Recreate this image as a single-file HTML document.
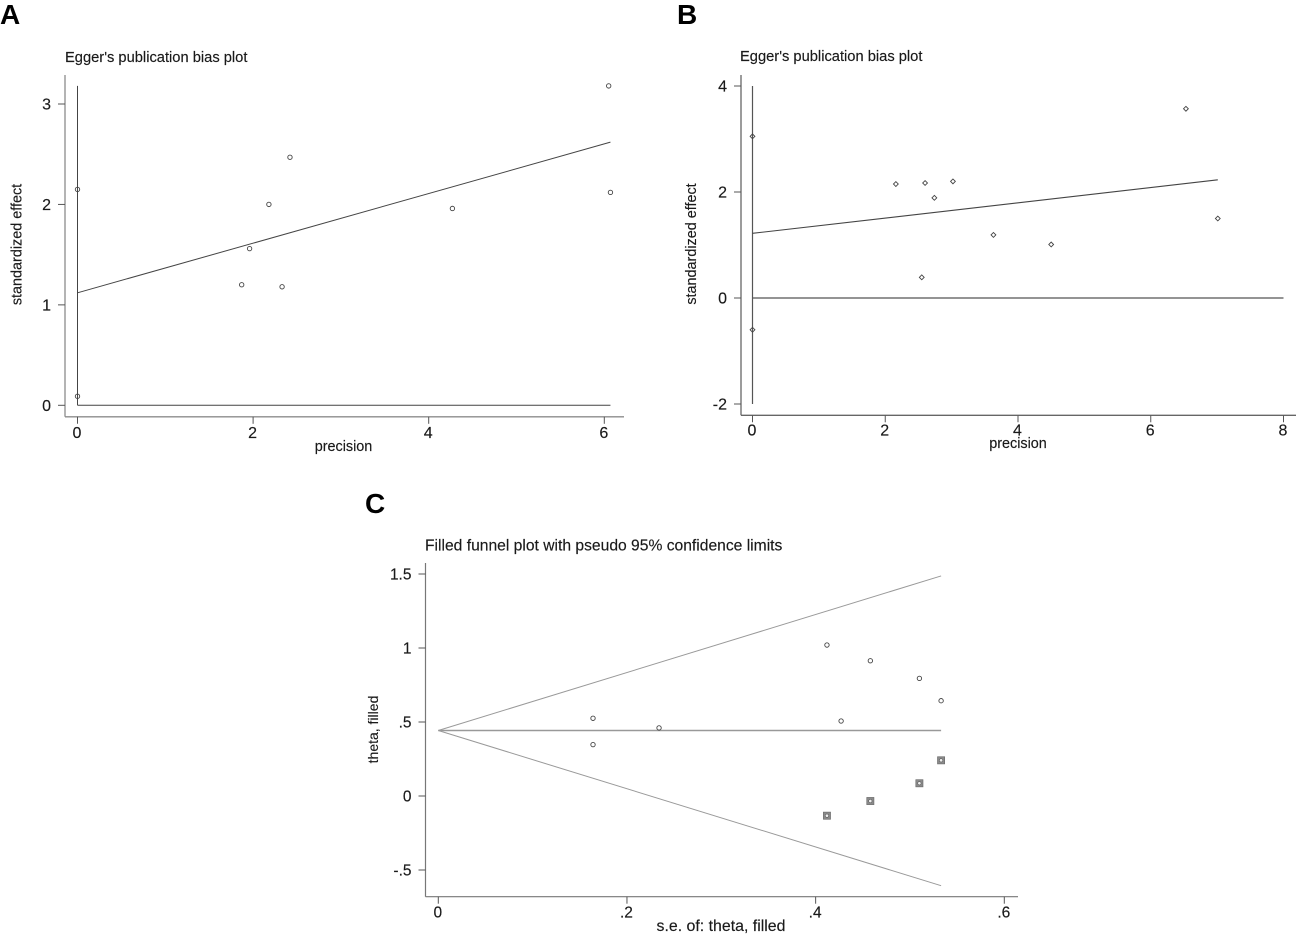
<!DOCTYPE html>
<html lang="en">
<head>
<meta charset="utf-8">
<title>Egger's publication bias plots and filled funnel plot</title>
<style>
html,body{margin:0;padding:0;background:#fff;}
body{width:1303px;height:945px;overflow:hidden;}
svg{display:block;font-family:"Liberation Sans",Arial,sans-serif;}
</style>
</head>
<body>
<svg id="figure" xmlns="http://www.w3.org/2000/svg" width="1303" height="945" viewBox="0 0 1303 945">
  <text x="0" y="24" font-size="28" font-weight="700" fill="#000">A</text>
  <text x="677" y="24" font-size="28" font-weight="700" fill="#000">B</text>
  <text x="365" y="513" font-size="28" font-weight="700" fill="#000">C</text>
  <g id="panel-a"></g>
  <g id="panel-b"></g>
  <g id="panel-c"></g>
</svg>
<script>
// Panel A data
const aPrecision = [0, 0, 1.87, 1.96, 2.18, 2.33, 2.42, 4.27, 6.05, 6.07];
const aEffect = [2.15, 0.09, 1.2, 1.56, 2.0, 1.18, 2.47, 1.96, 3.18, 2.12];
const aFitX = [0, 6.07];
const aFitY = [1.12, 2.62];
const aRefVertical = [0, 3.18];
const aRefHorizontal = [0, 6.07];
const aXTicks = [0, 2, 4, 6];
const aYTicks = [0, 1, 2, 3];

// Panel B data
const bPrecision = [0, 0, 2.16, 2.55, 2.6, 2.74, 3.02, 3.63, 4.5, 6.53, 7.01];
const bEffect = [3.05, -0.6, 2.15, 0.39, 2.17, 1.89, 2.2, 1.19, 1.01, 3.57, 1.5];
const bFitX = [0, 7.01];
const bFitY = [1.22, 2.23];
const bRefVertical = [-2, 4];
const bRefHorizontal = [0, 8];
const bXTicks = [0, 2, 4, 6, 8];
const bYTicks = [-2, 0, 2, 4];

// Panel C data
const cObservedSE = [0.164, 0.164, 0.234, 0.412, 0.427, 0.458, 0.51, 0.533];
const cObservedTheta = [0.525, 0.347, 0.46, 1.02, 0.507, 0.914, 0.795, 0.644];
const cFilledSE = [0.412, 0.458, 0.51, 0.533];
const cFilledTheta = [-0.133, -0.034, 0.086, 0.241];
const cCenterTheta = 0.4425;
const cMaxSE = 0.533;
const cUpperLimit = 1.487;
const cLowerLimit = -0.606;
const cXTicks = [0, 0.2, 0.4, 0.6];
const cXTickLabels = ['0', '.2', '.4', '.6'];
const cYTicks = [-0.5, 0, 0.5, 1, 1.5];
const cYTickLabels = ['-.5', '0', '.5', '1', '1.5'];

const NS = 'http://www.w3.org/2000/svg';

function linearScale(v0, p0, v1, p1) {
  return function (v) { return p0 + (v - v0) * (p1 - p0) / (v1 - v0); };
}

function drawLine(parent, name, x1, y1, x2, y2, color, width) {
  const el = document.createElementNS(NS, 'line');
  
  
  el.setAttribute('x1', x1);
  el.setAttribute('y1', y1);
  el.setAttribute('x2', x2);
  el.setAttribute('y2', y2);
  el.setAttribute('stroke', color);
  el.setAttribute('stroke-width', width);
  parent.appendChild(el);
  return el;
}

function drawText(parent, name, str, x, y, size, anchor, rotate) {
  const el = document.createElementNS(NS, 'text');
  
  
  el.setAttribute('x', x);
  el.setAttribute('y', y);
  el.setAttribute('font-size', size);
  el.setAttribute('text-anchor', anchor);
  el.setAttribute('fill', '#1a1a1a');
  el.setAttribute('stroke', '#1a1a1a');
  el.setAttribute('stroke-width', 0.15);
  if (rotate) el.setAttribute('transform', 'rotate(-90 ' + x + ' ' + y + ')');
  el.textContent = str;
  parent.appendChild(el);
  return el;
}

function drawCircle(parent, name, cx, cy, fill) {
  const el = document.createElementNS(NS, 'circle');
  
  
  el.setAttribute('cx', cx);
  el.setAttribute('cy', cy);
  el.setAttribute('r', 2.2);
  el.setAttribute('fill', fill);
  el.setAttribute('stroke', '#444');
  el.setAttribute('stroke-width', 0.9);
  parent.appendChild(el);
  return el;
}

function drawDiamond(parent, name, cx, cy) {
  const el = document.createElementNS(NS, 'rect');
  
  
  el.setAttribute('x', cx - 1.7);
  el.setAttribute('y', cy - 1.7);
  el.setAttribute('width', 3.4);
  el.setAttribute('height', 3.4);
  el.setAttribute('transform', 'rotate(45 ' + cx + ' ' + cy + ')');
  el.setAttribute('fill', 'none');
  el.setAttribute('stroke', '#444');
  el.setAttribute('stroke-width', 0.9);
  parent.appendChild(el);
  return el;
}

function drawFilledMarker(parent, name, cx, cy) {
  const el = document.createElementNS(NS, 'rect');
  
  
  el.setAttribute('x', cx - 3.6);
  el.setAttribute('y', cy - 3.6);
  el.setAttribute('width', 7.2);
  el.setAttribute('height', 7.2);
  el.setAttribute('fill', '#8a8a8a');
  el.setAttribute('stroke', '#666');
  el.setAttribute('stroke-width', 0.6);
  parent.appendChild(el);
  const dot = drawCircle(parent, name + '-center', cx, cy, '#eee');
  dot.setAttribute('r', 1.7);
  dot.setAttribute('stroke-width', 0.5);
}

function drawAxes(g, o) {
  drawLine(g, 'y-axis', o.left, o.top, o.left, o.bottom, o.axisColor, o.axisWidth);
  drawLine(g, 'x-axis', o.left, o.bottom, o.right, o.bottom, o.axisColor, o.axisWidth);
  o.xTicks.forEach(function (t, i) {
    const px = o.x(t);
    drawLine(g, 'x-tick', px, o.bottom, px, o.bottom + 7, '#555', 1);
    drawText(g, 'x-tick-label', o.xLabels ? o.xLabels[i] : String(t), px - 0.5, o.bottom + o.xLabelDy, o.tickSize, 'middle');
  });
  o.yTicks.forEach(function (t, i) {
    const py = o.y(t);
    drawLine(g, 'y-tick', o.left - 7, py, o.left, py, '#555', 1);
    drawText(g, 'y-tick-label', o.yLabels ? o.yLabels[i] : String(t), o.left - 14, py + 5.7, o.tickSize, 'end');
  });
}

// Panel A
(function () {
  const g = document.getElementById('panel-a');
  const x = linearScale(0, 77.5, 6, 604.3);
  const y = linearScale(0, 405.3, 3, 104);
  drawAxes(g, { left: 65, right: 624, top: 75, bottom: 416.8, axisColor: '#8c8c8c', axisWidth: 1.3,
    x: x, y: y, xTicks: aXTicks, yTicks: aYTicks, xLabelDy: 21, tickSize: 16 });
  drawText(g, 'chart-title', "Egger's publication bias plot", 65, 62, 14.7, 'start');
  drawText(g, 'x-axis-title', 'precision', 343.5, 451, 14.4, 'middle');
  drawText(g, 'y-axis-title', 'standardized effect', 21.5, 244.5, 14.4, 'middle', true);
  drawLine(g, 'reference-line-vertical', x(0), y(aRefVertical[0]), x(0), y(aRefVertical[1]), '#444', 1);
  drawLine(g, 'reference-line-zero', x(aRefHorizontal[0]), y(0), x(aRefHorizontal[1]), y(0), '#444', 1);
  drawLine(g, 'regression-line', x(aFitX[0]), y(aFitY[0]), x(aFitX[1]), y(aFitY[1]), '#444', 1);
  aPrecision.forEach(function (v, i) {
    drawCircle(g, 'study-point', x(v), y(aEffect[i]), 'none');
  });
})();

// Panel B
(function () {
  const g = document.getElementById('panel-b');
  const x = linearScale(0, 752.5, 8, 1283.5);
  const y = linearScale(0, 298, 4, 86);
  drawAxes(g, { left: 741, right: 1296, top: 75, bottom: 415.3, axisColor: '#666', axisWidth: 1.3,
    x: x, y: y, xTicks: bXTicks, yTicks: bYTicks, xLabelDy: 20, tickSize: 16 });
  drawText(g, 'chart-title', "Egger's publication bias plot", 740, 61, 14.7, 'start');
  drawText(g, 'x-axis-title', 'precision', 1018, 448, 14.4, 'middle');
  drawText(g, 'y-axis-title', 'standardized effect', 696, 244, 14.4, 'middle', true);
  drawLine(g, 'reference-line-vertical', x(0), y(bRefVertical[0]), x(0), y(bRefVertical[1]), '#555', 1.2);
  drawLine(g, 'reference-line-zero', x(bRefHorizontal[0]), y(0), x(bRefHorizontal[1]), y(0), '#555', 1.2);
  drawLine(g, 'regression-line', x(bFitX[0]), y(bFitY[0]), x(bFitX[1]), y(bFitY[1]), '#444', 1.1);
  bPrecision.forEach(function (v, i) {
    drawDiamond(g, 'study-point', x(v), y(bEffect[i]));
  });
})();

// Panel C
(function () {
  const g = document.getElementById('panel-c');
  const x = linearScale(0, 438.3, 0.6, 1004.3);
  const y = linearScale(0, 796, 1, 648);
  drawAxes(g, { left: 425.5, right: 1018, top: 563, bottom: 896.7, axisColor: '#777', axisWidth: 1.2,
    x: x, y: y, xTicks: cXTicks, yTicks: cYTicks, xLabels: cXTickLabels, yLabels: cYTickLabels, xLabelDy: 21, tickSize: 15.5 });
  drawText(g, 'chart-title', 'Filled funnel plot with pseudo 95% confidence limits', 425, 550.5, 15.65, 'start');
  drawText(g, 'x-axis-title', 's.e. of: theta, filled', 721, 931, 15.9, 'middle');
  drawText(g, 'y-axis-title', 'theta, filled', 378, 729.5, 14, 'middle', true);
  drawLine(g, 'pooled-estimate-line', x(0), y(cCenterTheta), x(cMaxSE), y(cCenterTheta), '#999', 1.4);
  drawLine(g, 'upper-confidence-limit', x(0), y(cCenterTheta), x(cMaxSE), y(cUpperLimit), '#999', 1);
  drawLine(g, 'lower-confidence-limit', x(0), y(cCenterTheta), x(cMaxSE), y(cLowerLimit), '#999', 1);
  cObservedSE.forEach(function (v, i) {
    drawCircle(g, 'observed-study-point', x(v), y(cObservedTheta[i]), 'none');
  });
  cFilledSE.forEach(function (v, i) {
    drawFilledMarker(g, 'imputed-study-point', x(v), y(cFilledTheta[i]));
  });
})();
</script>
</body>
</html>
